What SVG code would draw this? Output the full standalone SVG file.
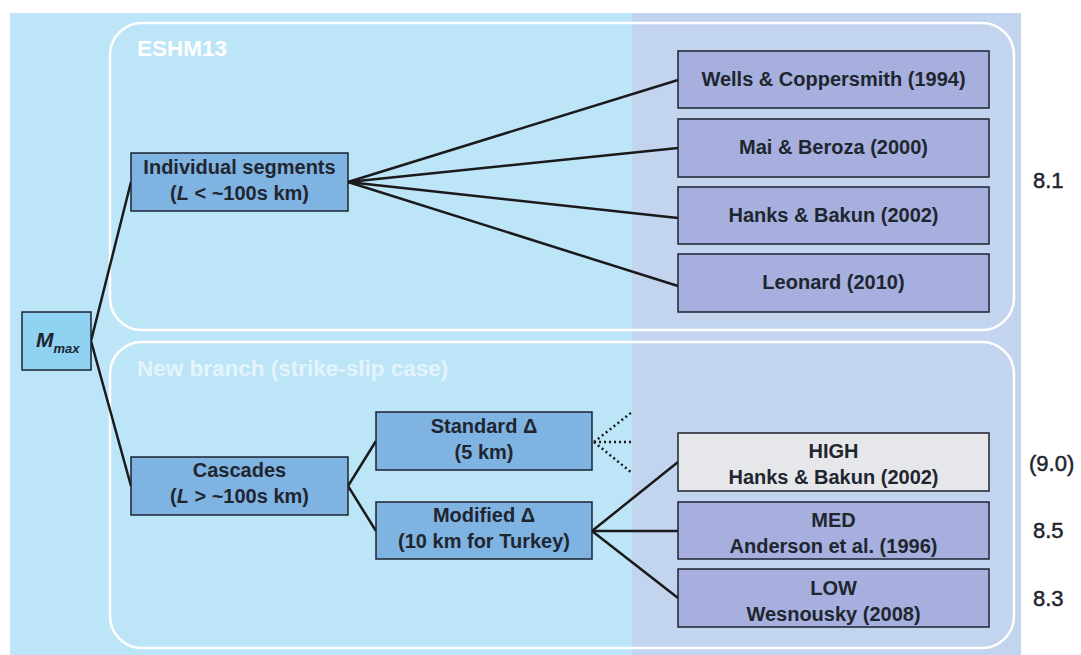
<svg xmlns="http://www.w3.org/2000/svg" width="1081" height="655" viewBox="0 0 1081 655">
  <style>
    text { font-family: "Liberation Sans", Arial, sans-serif; fill: #1f2630; }
    .lbl { font-size: 20px; font-weight: bold; text-anchor: middle; }
    .val { font-size: 22px; stroke: #1f2630; stroke-width: 0.5; }
    .panel { fill: none; stroke: #ffffff; stroke-width: 2.5; }
    .title { font-size: 22.5px; font-weight: bold; }
    .mid { fill: #7fb3e1; stroke: #1c2330; stroke-width: 1.5; }
    .leaf { fill: #a6afdd; stroke: #1c2330; stroke-width: 1.5; }
    .hi { fill: #e6e7ea; stroke: #1c2330; stroke-width: 1.5; }
    .root { fill: #8fd2f2; stroke: #1c2330; stroke-width: 1.5; }
    .edge { stroke: #1a1a1a; stroke-width: 2.5; fill: none; }
    .dot { stroke: #1a1a1a; stroke-width: 2.5; fill: none; stroke-dasharray: 2 3; }
  </style>

  <!-- background bands -->
  <rect x="0" y="0" width="1081" height="655" fill="#ffffff"/>
  <rect x="10" y="13" width="622" height="642" fill="#bde5f8"/>
  <rect x="632" y="13" width="389" height="642" fill="#c3d4ef"/>

  <!-- branch panels -->
  <g id="panel-eshm13">
    <rect class="panel" x="110" y="23" width="904" height="307" rx="32"/>
    <text class="title" x="137" y="56" style="fill:#ffffff">ESHM13</text>
  </g>
  <g id="panel-new-branch">
    <rect class="panel" x="110" y="342" width="904" height="306" rx="32"/>
    <text class="title" x="137" y="376" style="fill:#e4f4fc">New branch (strike-slip case)</text>
  </g>

  <!-- connectors -->
  <g id="connectors">
    <polyline class="edge" points="131,182 91,341 131,486"/>
    <line class="edge" x1="348" y1="182" x2="678" y2="80"/>
    <line class="edge" x1="348" y1="182" x2="678" y2="148"/>
    <line class="edge" x1="348" y1="182" x2="678" y2="218"/>
    <line class="edge" x1="348" y1="182" x2="678" y2="286"/>
    <polyline class="edge" points="376,441 348,486 376,531"/>
    <line class="dot" x1="594" y1="442" x2="632" y2="412"/>
    <line class="dot" x1="594" y1="442" x2="632" y2="442"/>
    <line class="dot" x1="594" y1="442" x2="632" y2="473"/>
    <line class="edge" x1="592" y1="531" x2="678" y2="462"/>
    <line class="edge" x1="592" y1="531" x2="678" y2="531"/>
    <line class="edge" x1="592" y1="531" x2="678" y2="598"/>
  </g>

  <!-- nodes -->
  <g id="node-mmax">
    <rect class="root" x="22" y="312" width="69" height="58"/>
    <text x="36" y="347" style="font-size:21px;font-weight:bold;font-style:italic">M<tspan dy="6" style="font-size:13px">max</tspan></text>
  </g>
  <g id="node-individual">
    <rect class="mid" x="131" y="153" width="217" height="58"/>
    <text class="lbl" x="239.5" y="174">Individual segments</text>
    <text class="lbl" x="239.5" y="200">(<tspan font-style="italic">L</tspan> &lt; ~100s km)</text>
  </g>
  <g id="node-cascades">
    <rect class="mid" x="131" y="457" width="217" height="58"/>
    <text class="lbl" x="239.5" y="477">Cascades</text>
    <text class="lbl" x="239.5" y="503">(<tspan font-style="italic">L</tspan> &gt; ~100s km)</text>
  </g>
  <g id="node-standard">
    <rect class="mid" x="376" y="412" width="216" height="58"/>
    <text class="lbl" x="484" y="433">Standard Δ</text>
    <text class="lbl" x="484" y="459">(5 km)</text>
  </g>
  <g id="node-modified">
    <rect class="mid" x="376" y="502" width="216" height="57"/>
    <text class="lbl" x="484" y="522">Modified Δ</text>
    <text class="lbl" x="484" y="548">(10 km for Turkey)</text>
  </g>
  <g id="node-wells">
    <rect class="leaf" x="678" y="51" width="311" height="57"/>
    <text class="lbl" x="833.5" y="86">Wells &amp; Coppersmith (1994)</text>
  </g>
  <g id="node-mai">
    <rect class="leaf" x="678" y="119" width="311" height="58"/>
    <text class="lbl" x="833.5" y="154">Mai &amp; Beroza (2000)</text>
  </g>
  <g id="node-hanks">
    <rect class="leaf" x="678" y="187" width="311" height="57"/>
    <text class="lbl" x="833.5" y="222">Hanks &amp; Bakun (2002)</text>
  </g>
  <g id="node-leonard">
    <rect class="leaf" x="678" y="254" width="311" height="58"/>
    <text class="lbl" x="833.5" y="289">Leonard (2010)</text>
  </g>
  <g id="node-high">
    <rect class="hi" x="678" y="433" width="311" height="58"/>
    <text class="lbl" x="833.5" y="458">HIGH</text>
    <text class="lbl" x="833.5" y="484">Hanks &amp; Bakun (2002)</text>
  </g>
  <g id="node-med">
    <rect class="leaf" x="678" y="502" width="311" height="57"/>
    <text class="lbl" x="833.5" y="527">MED</text>
    <text class="lbl" x="833.5" y="553">Anderson et al. (1996)</text>
  </g>
  <g id="node-low">
    <rect class="leaf" x="678" y="569" width="311" height="58"/>
    <text class="lbl" x="833.5" y="595">LOW</text>
    <text class="lbl" x="833.5" y="621">Wesnousky (2008)</text>
  </g>

  <!-- magnitude values -->
  <g id="values">
    <text class="val" x="1033" y="188">8.1</text>
    <text class="val" x="1029" y="471">(9.0)</text>
    <text class="val" x="1033" y="538">8.5</text>
    <text class="val" x="1033" y="606">8.3</text>
  </g>
</svg>
